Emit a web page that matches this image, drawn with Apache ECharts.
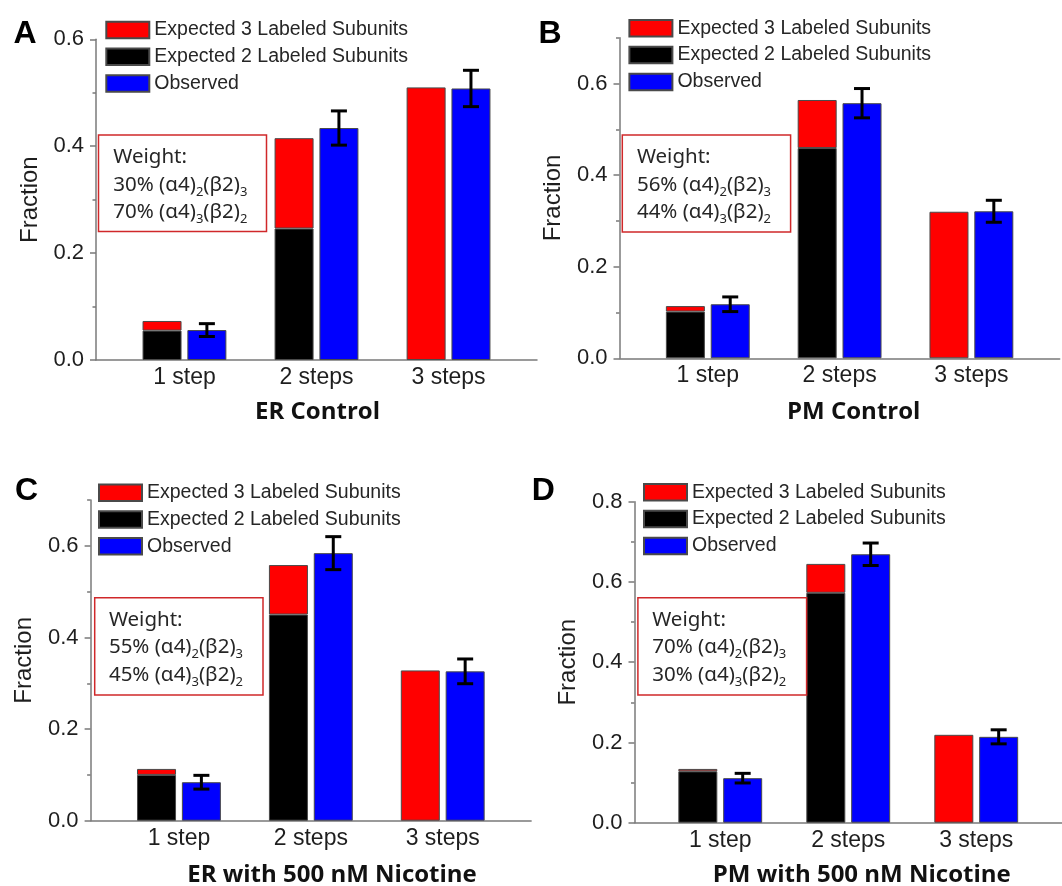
<!DOCTYPE html>
<html><head><meta charset="utf-8">
<script src="https://cdn.jsdelivr.net/npm/echarts@6/dist/echarts.min.js"></script>
<style>html,body{margin:0;padding:0;background:#fff}#c{width:1062px;height:886px}</style>
</head><body><div id="c"></div>
<script>
// ---------- data ----------
const categories = ['1 step', '2 steps', '3 steps'];
const panelLetters = ['A', 'B', 'C', 'D'];
const panelTitles = ['ER Control', 'PM Control', 'ER with 500 nM Nicotine', 'PM with 500 nM Nicotine'];
const weight23 = [30, 56, 55, 70];   // % (α4)2(β2)3
const weight32 = [70, 44, 45, 30];   // % (α4)3(β2)2
const yMaxes = [0.6, 0.7, 0.7, 0.8];
const yTicksA = [0, 0.2, 0.4, 0.6];
const yTicksB = [0, 0.2, 0.4, 0.6];
const yTicksC = [0, 0.2, 0.4, 0.6];
const yTicksD = [0, 0.2, 0.4, 0.6, 0.8];

// Expected 2 labeled subunits (black, bottom of stack)
const exp2A = [0.055, 0.246, null];
const exp2B = [0.102, 0.459, null];
const exp2C = [0.100, 0.450, null];
const exp2D = [0.128, 0.573, null];
// Expected 3 labeled subunits (red segment on top)
const exp3A = [0.018, 0.169, 0.510];
const exp3B = [0.012, 0.105, 0.320];
const exp3C = [0.013, 0.108, 0.328];
const exp3D = [0.006, 0.072, 0.219];
// Observed (blue) and its error
const obsA = [0.056, 0.434, 0.508];
const obsB = [0.118, 0.557, 0.321];
const obsC = [0.084, 0.584, 0.326];
const obsD = [0.111, 0.669, 0.214];
const errA = [0.012, 0.032, 0.034];
const errB = [0.016, 0.032, 0.024];
const errC = [0.015, 0.036, 0.027];
const errD = [0.012, 0.028, 0.0175];

const exp2 = [exp2A, exp2B, exp2C, exp2D];
const exp3 = [exp3A, exp3B, exp3C, exp3D];
const obs = [obsA, obsB, obsC, obsD];
const err = [errA, errB, errC, errD];
const yTicks = [yTicksA, yTicksB, yTicksC, yTicksD];

// ---------- layout / style ----------
const grids = [
  {left: 96, top: 39.3, width: 441, height: 320.7},
  {left: 619.5, top: 37.7, width: 440.2, height: 320.6},
  {left: 90.6, top: 500, width: 440.5, height: 320.7},
  {left: 634.5, top: 501.7, width: 440, height: 321}
];
const legendPos = [[105.3, 20], [628.4, 18.3], [98, 482.7], [643, 482.3]];
const boxes = [
  {x: 98.5, y: 135, w: 168, h: 96.5, tx: 113.3},
  {x: 622.3, y: 135, w: 168.3, h: 97, tx: 636.9},
  {x: 94.7, y: 597.7, w: 168.3, h: 97.3, tx: 108.9},
  {x: 637.9, y: 597.7, w: 168.7, h: 97.3, tx: 652.2}
];
const letterPos = [[13.5, 34], [538.5, 34], [15, 490.8], [531.7, 490.8]];
const titlePos = [[317.5, 412.5], [853.7, 412.5], [332, 875], [861.7, 875]];

const X_MIN = 0.33, X_MAX = 3.67;
const BAR_W = 39, GAP = 0.15;
const ERR_OFF = (BAR_W + BAR_W * GAP) / 2;
const AX = '#7a7a7a';
const TXT = '#1e1e1e';
const N3 = 'Expected 3 Labeled Subunits', N2 = 'Expected 2 Labeled Subunits', NO = 'Observed';

const xAxis = [], yAxis = [], series = [], legend = [], graphic = [];
for (let p = 0; p < 4; p++) {
  xAxis.push({
    type: 'value', gridIndex: p, min: X_MIN, max: X_MAX,
    axisLine: {show: true, onZero: false, lineStyle: {color: AX, width: 1.5}},
    axisTick: {show: false}, splitLine: {show: false},
    axisLabel: {
      customValues: [1, 2, 3], margin: 6,
      formatter: v => categories[Math.round(v) - 1] || '',
      fontFamily: 'Liberation Sans', fontSize: 23, color: TXT
    }
  });
}
for (let p = 0; p < 4; p++) {
  yAxis.push({
    type: 'value', gridIndex: p, min: 0, max: yMaxes[p], interval: 0.1, position: 'left',
    name: 'Fraction', nameLocation: 'middle', nameGap: 54,
    nameTextStyle: {fontFamily: 'Liberation Sans', fontSize: 24, color: TXT},
    axisLine: {show: true, onZero: false, lineStyle: {color: AX, width: 1.5}},
    axisTick: {show: true, customValues: yTicks[p], length: 6, lineStyle: {color: AX, width: 1.5}},
    splitLine: {show: false},
    axisLabel: {customValues: yTicks[p], margin: 12, formatter: v => v.toFixed(1),
      fontFamily: 'Liberation Sans', fontSize: 22, color: TXT}
  });
}
for (let p = 0; p < 4; p++) {
  // minor ticks axis
  yAxis.push({
    type: 'value', gridIndex: p, min: 0, max: yMaxes[p], interval: 0.1, position: 'left',
    axisLine: {show: false, onZero: false},
    axisTick: {show: true, length: 3.5, lineStyle: {color: AX, width: 1.5}},
    axisLabel: {show: false}, splitLine: {show: false}
  });
}

const border = {borderColor: '#4a4a4a', borderWidth: 1};
// value first, position second, so that the stack is computed on the y values
const toYX = arr => arr.map((v, i) => [v == null ? '-' : v, i + 1]);
for (let p = 0; p < 4; p++) {
  const common = {type: 'bar', xAxisIndex: p, yAxisIndex: p, barWidth: BAR_W,
    barGap: (GAP * 100) + '%', encode: {x: 1, y: 0}};
  series.push(Object.assign({}, common, {
    name: N2, stack: 'exp' + p,
    itemStyle: Object.assign({color: '#000000'}, border),
    data: toYX(exp2[p])
  }));
  series.push(Object.assign({}, common, {
    name: N3, stack: 'exp' + p,
    itemStyle: Object.assign({color: '#ff0000'}, border),
    data: toYX(exp3[p])
  }));
  series.push(Object.assign({}, common, {
    name: NO,
    itemStyle: Object.assign({color: '#0000ff'}, border),
    data: toYX(obs[p])
  }));
  series.push({
    type: 'custom', name: 'err' + p, xAxisIndex: p, yAxisIndex: p, z: 5,
    encode: {x: 0, y: 1},
    data: obs[p].map((v, i) => [i + 1, v, err[p][i]]),
    renderItem: (params, api) => {
      const x = api.value(0), y = api.value(1), e = api.value(2);
      const hi = api.coord([x, y + e]);
      const lo = api.coord([x, y - e]);
      const cx = hi[0] + ERR_OFF;
      const st = {stroke: '#000', lineWidth: 3};
      return {type: 'group', children: [
        {type: 'line', shape: {x1: cx, y1: hi[1], x2: cx, y2: lo[1]}, style: st},
        {type: 'line', shape: {x1: cx - 8, y1: hi[1], x2: cx + 8, y2: hi[1]}, style: st},
        {type: 'line', shape: {x1: cx - 8, y1: lo[1], x2: cx + 8, y2: lo[1]}, style: st}
      ]};
    }
  });
  legend.push({
    orient: 'vertical', left: legendPos[p][0], top: legendPos[p][1], padding: 0,
    itemWidth: 43, itemHeight: 16.5, itemGap: 6.8, icon: 'rect', selectedMode: false,
    data: [N3, N2, NO],
    textStyle: {fontFamily: 'Liberation Sans', fontSize: 19.5, color: '#262626', lineHeight: 16}
  });

  const b = boxes[p];
  graphic.push({type: 'rect', shape: {x: b.x, y: b.y, width: b.w, height: b.h},
    style: {fill: 'none', stroke: '#d0282a', lineWidth: 1.5}, z: 10});
  graphic.push({type: 'text', x: b.tx, y: b.y + 8.5, z: 10, style: {
    text: '{n|Weight:}\n{n|' + weight23[p] + '% (α4)}{s|2}{n|(β2)}{s|3}\n{n|' + weight32[p] + '% (α4)}{s|3}{n|(β2)}{s|2}',
    verticalAlign: 'top', align: 'left',
    rich: {
      n: {fontFamily: 'Noto Sans', fontSize: 20.5, lineHeight: 27.5, fill: '#262626'},
      s: {fontFamily: 'Noto Sans', fontSize: 13, lineHeight: 14, verticalAlign: 'bottom', fill: '#262626'}
    }
  }});
  graphic.push({type: 'text', x: letterPos[p][0], y: letterPos[p][1], z: 10, style: {
    text: panelLetters[p], font: 'bold 32px "Liberation Sans"', fill: '#000',
    align: 'left', verticalAlign: 'middle'}});
  graphic.push({type: 'text', x: titlePos[p][0], y: titlePos[p][1], z: 10, style: {
    text: panelTitles[p], font: 'bold 24px "Open Sans"', fill: '#111',
    align: 'center', verticalAlign: 'middle'}});
}

const chart = echarts.init(document.getElementById('c'), null, {renderer: 'canvas'});
chart.setOption({
  animation: false,
  backgroundColor: '#ffffff',
  grid: grids.map(g => Object.assign({containLabel: false}, g)),
  xAxis, yAxis, series, legend, graphic
});
</script></body></html>
